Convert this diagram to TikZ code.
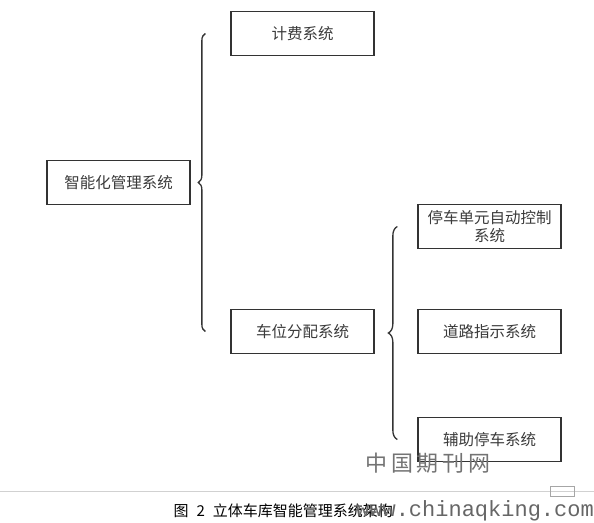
\documentclass[tikz,border=0pt]{standalone}
\usepackage{fontspec}
\setmainfont{Noto Sans CJK SC}
\setmonofont{Liberation Mono}
\usetikzlibrary{decorations.pathreplacing,positioning,calc}
\definecolor{boxline}{HTML}{333333}
\definecolor{boxtext}{HTML}{3A3A3A}
\tikzstyle{sys} = [draw=boxline,line width=1.3pt,minimum width=143pt,minimum height=44pt,inner sep=2pt,align=center,text=boxtext,font=\fontsize{15.5}{19}\selectfont]
\tikzstyle{grp} = [draw=boxline,line width=1.3pt,decorate]

\begin{document}
\begin{tikzpicture}[x=1pt,y=-1pt]
        \useasboundingbox (0,0) rectangle (594,522);

        \node[sys] (main) at (118.5,182.5) {智能化管理系统};
        \node[sys] (fee) at (302.5,33.5) {计费系统};
        \node[sys] (alloc) at (302.5,331.5) {车位分配系统};
        \node[sys] (park) at (489.5,226.5) {停车单元自动控制\\[-1pt]系统};
        \node[sys] (road) at (489.5,331.5) {道路指示系统};
        \node[sys] (aux) at (489.5,439.5) {辅助停车系统};

        \draw[grp,decoration={brace,amplitude=7pt,aspect=.5}] ([xshift=-25pt]alloc.west) -- ([xshift=-25pt]fee.west);
        \draw[grp,decoration={brace,amplitude=9pt,aspect=.5}] ([xshift=-20pt]aux.west) -- ([xshift=-20pt]park.west);

        \coordinate (rl) at (0,491);
        \coordinate (rr) at (594,491);
        \draw[black!18,line width=.8pt] (rl) -- (rr);
        \draw[black!35,line width=.6pt] (550,486) rectangle (574,496);

        \node[text=black!55,font=\fontsize{22}{22}\selectfont] (wm) at (428,463) {中\,国\,期\,刊\,网};
        \node[anchor=west,font=\fontsize{15}{15}\selectfont] (cap) at (170,511) {图\hspace{8pt}2\hspace{8pt}立体车库智能管理系统架构};
        \node[anchor=east,text=black!60,font=\ttfamily\fontsize{22}{22}\selectfont,inner sep=0pt] (url) at (594,511) {www.chinaqking.com};
\end{tikzpicture}
\end{document}
